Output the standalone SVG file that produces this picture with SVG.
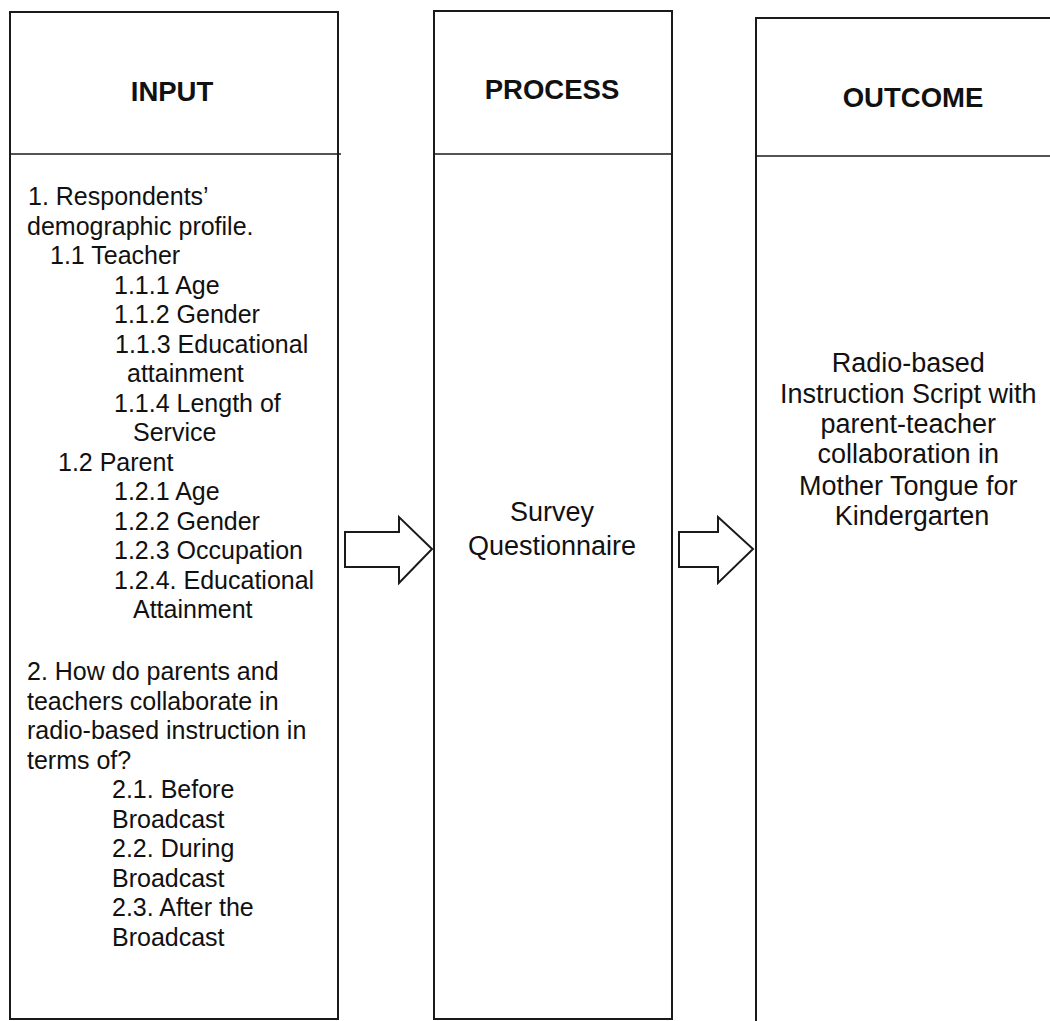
<svg xmlns="http://www.w3.org/2000/svg" width="1050" height="1021" viewBox="0 0 1050 1021">
<style>
.box{fill:#fff;stroke:#1a1a1a;stroke-width:2}
.div{stroke:#1a1a1a;stroke-width:1.6}
.h{font-family:"Liberation Sans",Arial,sans-serif;font-weight:bold;font-size:27.5px;fill:#111;text-anchor:middle}
.b{font-family:"Liberation Sans",Arial,sans-serif;font-size:25px;fill:#111}
.c{font-family:"Liberation Sans",Arial,sans-serif;font-size:27px;fill:#111;text-anchor:middle}
.arr{fill:#fff;stroke:#1a1a1a;stroke-width:2;stroke-linejoin:miter}
</style>
<rect width="1050" height="1021" fill="#fff"/>
<g id="input">
<rect class="box" x="10" y="12" width="328" height="1007"/>
<line class="div" x1="10" y1="154" x2="341" y2="154"/>
<text class="h" x="172" y="101">INPUT</text>
<text class="b">
<tspan x="28" y="205">1. Respondents’</tspan>
<tspan x="27" y="234.5">demographic profile.</tspan>
<tspan x="50" y="264">1.1 Teacher</tspan>
<tspan x="114" y="293.5">1.1.1 Age</tspan>
<tspan x="114" y="323">1.1.2 Gender</tspan>
<tspan x="115" y="352.5">1.1.3 Educational</tspan>
<tspan x="127" y="382">attainment</tspan>
<tspan x="114" y="411.5">1.1.4 Length of</tspan>
<tspan x="133" y="441">Service</tspan>
<tspan x="58" y="470.5">1.2 Parent</tspan>
<tspan x="114" y="500">1.2.1 Age</tspan>
<tspan x="114" y="529.5">1.2.2 Gender</tspan>
<tspan x="114" y="559">1.2.3 Occupation</tspan>
<tspan x="114" y="588.5">1.2.4. Educational</tspan>
<tspan x="133" y="618">Attainment</tspan>
<tspan x="27" y="680">2. How do parents and</tspan>
<tspan x="27" y="709.5">teachers collaborate in</tspan>
<tspan x="27" y="739">radio-based instruction in</tspan>
<tspan x="27" y="768.5">terms of?</tspan>
<tspan x="112" y="798">2.1. Before</tspan>
<tspan x="112" y="827.5">Broadcast</tspan>
<tspan x="112" y="857">2.2. During</tspan>
<tspan x="112" y="886.5">Broadcast</tspan>
<tspan x="112" y="916">2.3. After the</tspan>
<tspan x="112" y="945.5">Broadcast</tspan>
</text>
</g>
<g id="process">
<rect class="box" x="434" y="11" width="238" height="1008"/>
<line class="div" x1="434" y1="154" x2="672" y2="154"/>
<text class="h" x="552" y="99">PROCESS</text>
<text class="c"><tspan x="552" y="521">Survey</tspan><tspan x="552" y="555">Questionnaire</tspan></text>
</g>
<g id="outcome">
<rect class="box" x="756" y="18" width="320" height="1020"/>
<line class="div" x1="756" y1="156" x2="1050" y2="156"/>
<text class="h" x="913" y="107">OUTCOME</text>
<text class="c">
<tspan x="912" y="372">Radio-based</tspan>
<tspan x="912" y="403">Instruction Script with</tspan>
<tspan x="912" y="433">parent-teacher</tspan>
<tspan x="912" y="463">collaboration in</tspan>
<tspan x="912" y="495">Mother Tongue for</tspan>
<tspan x="912" y="525">Kindergarten</tspan>
</text>
</g>
<g id="connectors">
<polygon class="arr" points="345,532 399,532 399,517 432,549 399,583 399,567 345,567"/>
<polygon class="arr" points="679,532 718,532 718,517 753,549 718,583 718,567 679,567"/>
</g>
</svg>
